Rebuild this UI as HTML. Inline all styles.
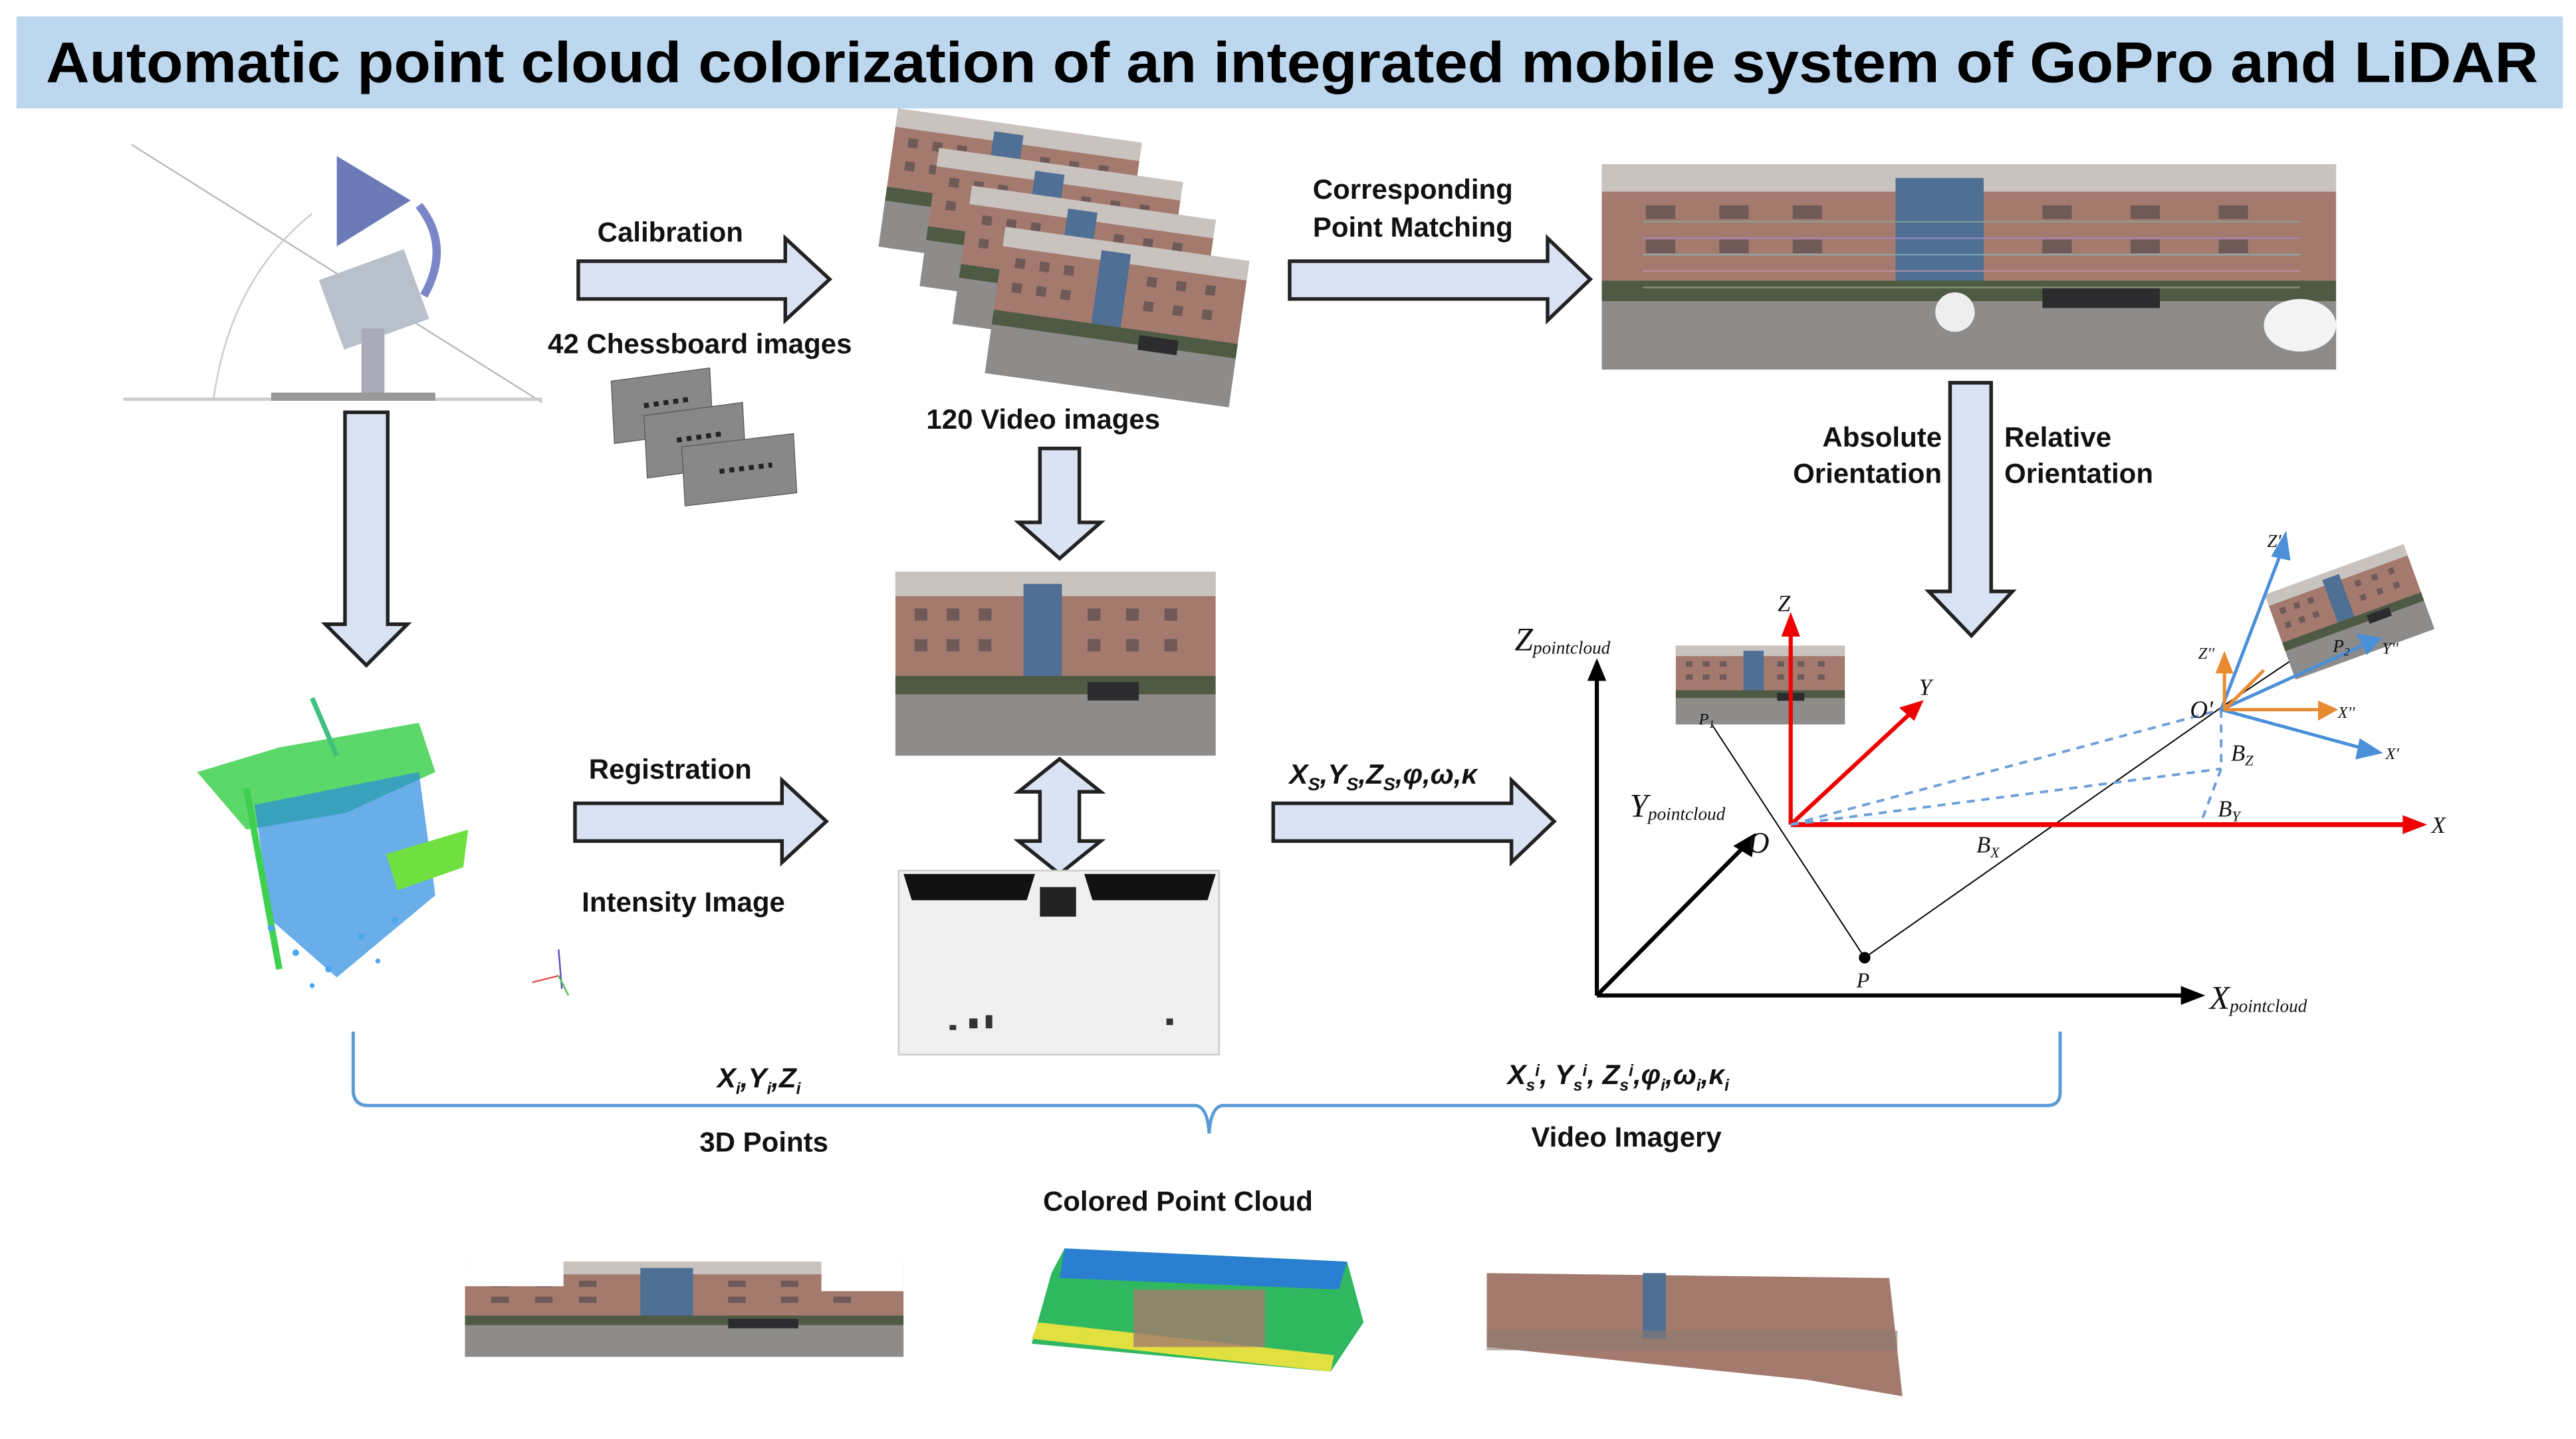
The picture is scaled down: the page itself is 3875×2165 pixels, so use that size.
<!DOCTYPE html>
<html><head><meta charset="utf-8"><style>
html,body{margin:0;padding:0;background:#fff;}
svg{display:block}
text{font-family:"Liberation Sans",Arial,sans-serif;}
.b{font-weight:bold;font-size:17px;fill:#111}
.m{font-family:"Liberation Serif",serif;font-style:italic;fill:#111}
</style></head><body>
<svg width="3875" height="2165" viewBox="0 0 1568 876" preserveAspectRatio="none" xmlns="http://www.w3.org/2000/svg">
<defs>
<symbol id="bl" viewBox="0 0 100 60" preserveAspectRatio="none">
<rect width="100" height="60" fill="#a47a6e"/>
<rect x="0" y="0" width="100" height="8" fill="#c9c3c0"/>
<rect x="40" y="4" width="12" height="32" fill="#4f6f94"/>
<g fill="#6f5a58"><rect x="6" y="12" width="4" height="4"/><rect x="16" y="12" width="4" height="4"/><rect x="26" y="12" width="4" height="4"/><rect x="60" y="12" width="4" height="4"/><rect x="72" y="12" width="4" height="4"/><rect x="84" y="12" width="4" height="4"/><rect x="6" y="22" width="4" height="4"/><rect x="16" y="22" width="4" height="4"/><rect x="26" y="22" width="4" height="4"/><rect x="60" y="22" width="4" height="4"/><rect x="72" y="22" width="4" height="4"/><rect x="84" y="22" width="4" height="4"/></g>
<rect x="0" y="34" width="100" height="6" fill="#4e5a44"/>
<rect x="0" y="40" width="100" height="20" fill="#8d8c8a"/>
<rect x="60" y="36" width="16" height="6" fill="#2c2c2e"/>
</symbol>
</defs>
<!-- title -->
<rect x="10" y="10" width="1550" height="56" fill="#bdd7ee"/>
<text x="28" y="50" textLength="1517" lengthAdjust="spacingAndGlyphs" style="font-weight:bold;font-size:35px;fill:#000">Automatic point cloud colorization of an integrated mobile system of GoPro and LiDAR</text>

<!-- device -->
<line x1="80" y1="88" x2="330" y2="245" stroke="#bbb" stroke-width="1"/>
<line x1="75" y1="243" x2="330" y2="243" stroke="#ccc" stroke-width="2"/>
<path d="M130 243 Q140 170 190 130" fill="none" stroke="#ccc" stroke-width="1"/>
<polygon points="205,95 250,122 205,150" fill="#6c7bb8"/>
<path d="M255 125 Q275 150 258 180" fill="none" stroke="#7b86c6" stroke-width="5"/>
<rect x="200" y="160" width="55" height="45" fill="#b8c0cc" transform="rotate(-20 227 182)"/>
<rect x="220" y="200" width="14" height="40" fill="#aab"/>
<rect x="165" y="239" width="100" height="5" fill="#999"/>

<!-- block arrows -->
<g fill="#dae3f3" stroke="#222" stroke-width="2.2">
<polygon points="352,159 478,159 478,145 505,170 478,195 478,182 352,182"/>
<polygon points="785,159 942,159 942,145 968,170 942,195 942,182 785,182"/>
<polygon points="350,489 476,489 476,475 503,500 476,525 476,512 350,512"/>
<polygon points="775,489 920,489 920,475 946,500 920,525 920,512 775,512"/>
<polygon points="210,251 236,251 236,380 248,380 223,405 198,380 210,380"/>
<polygon points="633,273 657,273 657,318 670,318 645,340 620,318 633,318"/>
<polygon points="1187,233 1212,233 1212,360 1225,360 1200,387 1174,360 1187,360"/>
<polygon points="645,462 670,482 657,482 657,512 670,512 645,532 620,512 633,512 633,482 620,482"/>
</g>

<!-- labels -->
<text class="b" x="408" y="147" text-anchor="middle">Calibration</text>
<text class="b" x="426" y="215" text-anchor="middle">42 Chessboard images</text>
<text class="b" x="635" y="261" text-anchor="middle">120 Video images</text>
<text class="b" x="860" y="121" text-anchor="middle">Corresponding</text>
<text class="b" x="860" y="144" text-anchor="middle">Point Matching</text>
<text class="b" x="1182" y="272" text-anchor="end">Absolute</text>
<text class="b" x="1182" y="294" text-anchor="end">Orientation</text>
<text class="b" x="1220" y="272">Relative</text>
<text class="b" x="1220" y="294">Orientation</text>
<text class="b" x="408" y="474" text-anchor="middle">Registration</text>
<text class="b" x="416" y="555" text-anchor="middle">Intensity Image</text>
<text class="b" x="842" y="477" text-anchor="middle" style="font-style:italic">X<tspan font-size="11" dy="4">S</tspan><tspan dy="-4">,Y</tspan><tspan font-size="11" dy="4">S</tspan><tspan dy="-4">,Z</tspan><tspan font-size="11" dy="4">S</tspan><tspan dy="-4">,φ,ω,κ</tspan></text>

<!-- chessboards -->
<g fill="#888" stroke="#555" stroke-width="0.5">
<polygon points="372,232 432,224 434,262 374,270"/>
<polygon points="392,253 452,245 454,283 394,291"/>
<polygon points="415,272 483,264 485,300 417,308"/>
</g>
<g fill="none" stroke="#222" stroke-width="3" stroke-dasharray="3 3">
<line x1="392" y1="247" x2="420" y2="243"/><line x1="412" y1="268" x2="440" y2="264"/><line x1="438" y1="287" x2="470" y2="283"/>
</g>

<!-- video stack -->
<g>
<use href="#bl" x="540" y="76" width="150" height="85" transform="rotate(8 615 118)"/>
<use href="#bl" x="565" y="100" width="150" height="85" transform="rotate(8 640 142)"/>
<use href="#bl" x="585" y="123" width="150" height="85" transform="rotate(8 660 165)"/>
<use href="#bl" x="605" y="148" width="150" height="90" transform="rotate(8 680 193)"/>
</g>
<!-- panorama -->
<use href="#bl" x="975" y="100" width="447" height="125"/>
<g stroke-width="1" opacity="0.7">
<line x1="1000" y1="135" x2="1400" y2="135" stroke="#8a9"/><line x1="1000" y1="145" x2="1400" y2="145" stroke="#a8c"/><line x1="1000" y1="155" x2="1400" y2="155" stroke="#8bb"/><line x1="1000" y1="165" x2="1400" y2="165" stroke="#b9a"/><line x1="1000" y1="175" x2="1400" y2="175" stroke="#9a8"/>
</g>
<ellipse cx="1400" cy="198" rx="22" ry="16" fill="#f4f4f4"/>
<ellipse cx="1190" cy="190" rx="12" ry="12" fill="#eee"/>

<!-- middle image -->
<use href="#bl" x="545" y="348" width="195" height="112"/>
<!-- intensity image -->
<rect x="547" y="530" width="195" height="112" fill="#f0f0f0" stroke="#ccc"/>
<polygon points="550,532 630,532 625,548 555,548" fill="#111"/>
<polygon points="660,532 740,532 735,548 665,548" fill="#111"/>
<rect x="633" y="540" width="22" height="18" fill="#222"/>
<g fill="#333"><rect x="590" y="620" width="5" height="6"/><rect x="600" y="618" width="4" height="8"/><rect x="578" y="624" width="4" height="3"/><rect x="710" y="620" width="4" height="4"/></g>

<!-- lidar point cloud -->
<g>
<polygon points="120,470 170,455 255,440 265,470 210,495 150,505" fill="#40d050" opacity="0.85"/>
<polygon points="155,490 255,470 265,545 205,595 165,560" fill="#2a8ae0" opacity="0.7"/>
<polygon points="235,520 285,505 282,528 242,542" fill="#70e040"/>
<line x1="150" y1="480" x2="170" y2="590" stroke="#40d050" stroke-width="4"/>
<line x1="190" y1="425" x2="205" y2="460" stroke="#40c080" stroke-width="3"/>
<g fill="#4aa8f0"><circle cx="180" cy="580" r="2"/><circle cx="200" cy="590" r="2"/><circle cx="220" cy="570" r="2"/><circle cx="240" cy="560" r="2"/><circle cx="165" cy="565" r="2"/><circle cx="190" cy="600" r="1.5"/><circle cx="230" cy="585" r="1.5"/></g>
<line x1="340" y1="578" x2="342" y2="602" stroke="#6050c0"/><line x1="324" y1="598" x2="340" y2="594" stroke="#e05050"/><line x1="340" y1="594" x2="346" y2="606" stroke="#50c050"/>
</g>

<!-- coordinate diagram -->
<g stroke="#000" fill="#000">
<line x1="972" y1="606" x2="972" y2="412" stroke-width="2.5"/><polygon points="967,414 977,414 972,402" />
<line x1="972" y1="606" x2="1330" y2="606" stroke-width="2.5"/><polygon points="1328,601 1328,611 1341,606"/>
<line x1="972" y1="606" x2="1062" y2="515" stroke-width="2.5"/><polygon points="1056,515 1066,521 1068,508"/>
<line x1="1040" y1="438" x2="1135" y2="583" stroke-width="0.8"/>
<line x1="1135" y1="583" x2="1353" y2="430" stroke-width="0.8"/>
<line x1="1353" y1="430" x2="1420" y2="385" stroke-width="0.8"/>
<circle cx="1135" cy="583" r="3"/><circle cx="1040" cy="438" r="2"/>
</g>
<use href="#bl" x="1020" y="393" width="103" height="48"/>
<use href="#bl" x="1385" y="345" width="90" height="55" transform="rotate(-20 1430 372)"/>
<g stroke="#e00" fill="#e00">
<line x1="1090" y1="502" x2="1465" y2="502" stroke-width="3"/><polygon points="1463,497 1463,507 1476,502"/>
<line x1="1090" y1="502" x2="1090" y2="385" stroke-width="2.5"/><polygon points="1085,387 1095,387 1090,374"/>
<line x1="1090" y1="502" x2="1162" y2="435" stroke-width="2.5"/><polygon points="1157,431 1165,438 1170,427"/>
</g>
<g stroke="#6f9fd8" stroke-width="1.6" stroke-dasharray="5 4" fill="none">
<line x1="1090" y1="502" x2="1352" y2="432"/>
<line x1="1090" y1="502" x2="1352" y2="468"/>
<line x1="1352" y1="432" x2="1352" y2="468"/>
<line x1="1352" y1="468" x2="1340" y2="500"/>
</g>
<g stroke="#4a8fd8" stroke-width="2" fill="#4a8fd8">
<line x1="1352" y1="432" x2="1389" y2="335"/><polygon points="1384,338 1393,340 1391,326"/>
<line x1="1352" y1="432" x2="1440" y2="392"/><polygon points="1436,387 1441,397 1448,389"/>
<line x1="1352" y1="432" x2="1440" y2="456"/><polygon points="1437,451 1435,461 1448,458"/>
</g>
<g stroke="#e88a30" stroke-width="2" fill="#e88a30">
<line x1="1354" y1="432" x2="1354" y2="407"/><polygon points="1350,409 1358,409 1354,399"/>
<line x1="1354" y1="432" x2="1414" y2="432"/><polygon points="1412,428 1412,437 1421,432"/>
<line x1="1354" y1="432" x2="1378" y2="408"/>
</g>
<text class="m" x="922" y="396" font-size="20">Z<tspan font-size="11" dy="2">pointcloud</tspan></text>
<text class="m" x="992" y="497" font-size="20">Y<tspan font-size="11" dy="2">pointcloud</tspan></text>
<text class="m" x="1345" y="614" font-size="20">X<tspan font-size="11" dy="2">pointcloud</tspan></text>
<text class="m" x="1064" y="519" font-size="18">O</text>
<text class="m" x="1082" y="372" font-size="14">Z</text>
<text class="m" x="1168" y="423" font-size="14">Y</text>
<text class="m" x="1480" y="507" font-size="14">X</text>
<text class="m" x="1130" y="601" font-size="13">P</text>
<text class="m" x="1034" y="441" font-size="10">P<tspan font-size="7" dy="2">1</tspan></text>
<text class="m" x="1203" y="519" font-size="14">B<tspan font-size="9" dy="3">X</tspan></text>
<text class="m" x="1350" y="497" font-size="14">B<tspan font-size="9" dy="3">Y</tspan></text>
<text class="m" x="1358" y="463" font-size="14">B<tspan font-size="9" dy="3">Z</tspan></text>
<text class="m" x="1333" y="437" font-size="15">O'</text>
<text class="m" x="1380" y="333" font-size="11">Z'</text>
<text class="m" x="1338" y="401" font-size="10">Z''</text>
<text class="m" x="1423" y="437" font-size="10">X''</text>
<text class="m" x="1452" y="462" font-size="10">X'</text>
<text class="m" x="1450" y="398" font-size="10">Y''</text>
<text class="m" x="1420" y="397" font-size="11">P<tspan font-size="7" dy="2">2</tspan></text>

<!-- bracket -->
<path d="M215 628 L215 665 Q216 673 224 673 L728 673 Q735 674 736 690 Q737 674 744 673 L1246 673 Q1254 673 1254 665 L1254 628" fill="none" stroke="#5b9bd5" stroke-width="2"/>
<text class="b" x="462" y="662" text-anchor="middle" style="font-style:italic">X<tspan font-size="10" dy="4">i</tspan><tspan dy="-4">,Y</tspan><tspan font-size="10" dy="4">i</tspan><tspan dy="-4">,Z</tspan><tspan font-size="10" dy="4">i</tspan></text>
<text class="b" x="985" y="660" text-anchor="middle" style="font-style:italic">X<tspan font-size="10" dy="4">s</tspan><tspan font-size="10" dy="-9">i</tspan><tspan dy="5">, Y</tspan><tspan font-size="10" dy="4">s</tspan><tspan font-size="10" dy="-9">i</tspan><tspan dy="5">, Z</tspan><tspan font-size="10" dy="4">s</tspan><tspan font-size="10" dy="-9">i</tspan><tspan dy="5">,φ</tspan><tspan font-size="10" dy="4">i</tspan><tspan dy="-4">,ω</tspan><tspan font-size="10" dy="4">i</tspan><tspan dy="-4">,κ</tspan><tspan font-size="10" dy="4">i</tspan></text>
<text class="b" x="465" y="701" text-anchor="middle">3D Points</text>
<text class="b" x="990" y="698" text-anchor="middle">Video Imagery</text>
<text class="b" x="717" y="737" text-anchor="middle">Colored Point Cloud</text>

<!-- bottom results -->
<use href="#bl" x="283" y="768" width="267" height="58"/>
<rect x="283" y="768" width="60" height="15" fill="#fff"/><rect x="500" y="768" width="50" height="18" fill="#fff"/>
<polygon points="648,760 820,768 830,805 810,835 628,818 640,775" fill="#2fb860"/>
<polygon points="648,760 820,768 815,785 645,778" fill="#2a7fd0"/>
<polygon points="628,815 810,835 812,825 632,805" fill="#e0e040"/>
<rect x="690" y="785" width="80" height="35" fill="#a47a6e" opacity="0.8"/>
<polygon points="905,775 1150,778 1158,850 1100,840 905,820" fill="#a47a6e"/>
<rect x="1000" y="775" width="14" height="40" fill="#4f6f94"/>
<rect x="905" y="810" width="250" height="12" fill="#8a7a70" opacity="0.6"/>
</svg>
</body></html>
